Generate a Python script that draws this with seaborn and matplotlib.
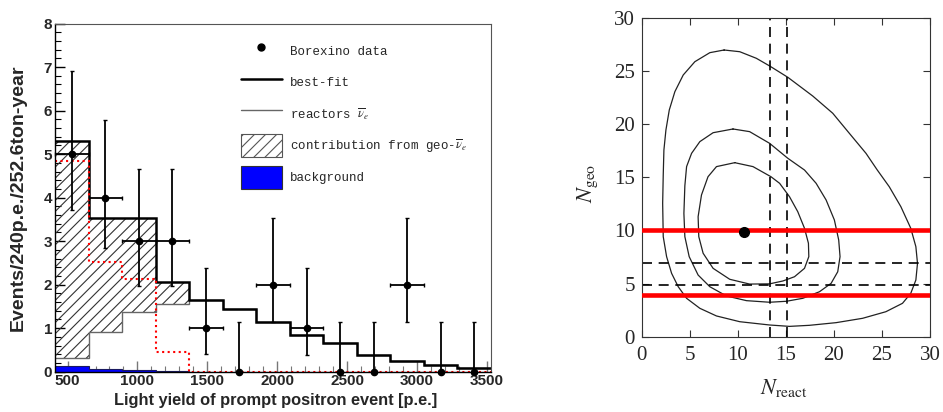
import numpy as np
import matplotlib
matplotlib.use('Agg')
import matplotlib.pyplot as plt
from matplotlib.patches import Patch
from matplotlib.lines import Line2D
from matplotlib.ticker import MultipleLocator
import seaborn as sns

# ---- left panel: prompt positron spectrum, 240 p.e. bins ----
bin_edges = [410, 650, 890, 1130, 1370, 1610, 1850, 2090, 2330, 2570, 2810, 3050, 3290, 3530]
data_counts = [5, 4, 3, 3, 1, 0, 2, 1, 0, 0, 2, 0, 0]
data_low = [3.72, 2.84, 1.98, 1.98, 0.40, 0, 1.15, 0.38, 0, 0, 1.15, 0, 0]
data_high = [6.90, 5.79, 4.66, 4.66, 2.38, 1.15, 3.53, 2.38, 1.15, 1.15, 3.53, 1.15, 1.15]
best_fit = [5.31, 3.53, 3.53, 2.07, 1.64, 1.44, 1.15, 0.84, 0.66, 0.39, 0.25, 0.15, 0.08]
reactors = [0.32, 0.91, 1.37, 1.56, 1.64, 1.44, 1.15, 0.84, 0.66, 0.39, 0.25, 0.15, 0.08]
geo_spectrum = [4.85, 2.53, 2.13, 0.46, 0, 0, 0, 0, 0, 0, 0, 0, 0]
background = [0.14, 0.06, 0.03, 0.01, 0, 0, 0, 0, 0, 0, 0, 0, 0]
legend_labels = ['Borexino data', 'best-fit', r'reactors $\overline{\nu}_{e}$',
                 r'contribution from geo-$\overline{\nu}_{e}$', 'background']

# ---- right panel: N_geo vs N_react contours ----
outer_x = [8.57, 10.2, 11.93, 13.31, 15.21, 17.8, 19.88, 21.61, 23.34, 24.5, 25.76, 26.97, 28.0,
           28.53, 28.7, 28.53, 28.0, 27.14, 25.41, 22.99, 20.23, 17.46, 15.38, 13.31, 10.2, 7.78,
           6.05, 4.67, 3.8, 3.11, 2.59, 2.24, 2.18, 2.24, 2.31, 2.52, 2.87, 3.45, 4.32, 5.53, 7.09]
outer_y = [26.97, 26.81, 26.19, 25.47, 24.4, 22.64, 21.02, 19.13, 17.25, 15.7, 14.11, 12.23, 10.2,
           8.47, 6.9, 5.33, 4.08, 3.14, 2.35, 1.73, 1.32, 1.07, 0.97, 1.1, 1.41, 1.95,
           2.67, 3.61, 4.7, 5.96, 7.53, 9.41, 12.55, 15.2, 17.56, 19.45, 21.33, 23.05, 24.62, 25.87,
           26.72]
middle_x = [9.5, 11.23, 13.31, 15.21, 16.94, 18.15, 19.19, 20.05, 20.5, 20.64, 20.4, 19.71, 18.5,
            16.76, 15.04, 13.31, 10.9, 8.82, 7.09, 5.87, 4.94, 4.49, 4.39, 4.49, 4.67, 5.19, 6.05,
            7.43]
middle_y = [19.54, 19.29, 18.19, 16.78, 15.68, 14.43, 12.86, 10.98, 9.1, 7.53, 6.11, 5.02, 4.23,
            3.61, 3.33, 3.24, 3.39, 3.83, 4.7, 5.8, 7.53, 9.41, 11.6, 14.2, 16.0, 17.25, 18.35,
            19.19]
inner_x = [9.68, 11.58, 13.45, 14.35, 15.38, 16.24, 16.94, 17.35, 17.39, 16.94, 15.9, 14.69, 13.31,
           11.23, 9.16, 7.43, 6.39, 5.94, 5.87, 6.22, 6.9, 7.78]
inner_y = [16.37, 16.0, 15.05, 14.43, 13.17, 11.76, 10.2, 8.79, 7.53, 6.43, 5.64, 5.24, 4.97,
           4.95, 5.4, 6.43, 7.85, 9.41, 11.29, 13.33, 15.05, 16.0]
best_point = (10.65, 9.85)
geo_red_lines = [10.0, 3.95]
geo_dashed_lines = [6.9, 4.85]
react_dashed_lines = [13.4, 15.1]

sns.set_theme(style='ticks')
plt.rcParams['mathtext.fontset'] = 'stix'
plt.rcParams['hatch.linewidth'] = 0.8
plt.rcParams['hatch.color'] = '#333333'
sans = ['Liberation Sans', 'DejaVu Sans']
serif = ['Liberation Serif', 'DejaVu Serif']

fig = plt.figure(figsize=(9.43, 4.12), dpi=100)
ax1 = fig.add_axes([0.0583, 0.0978, 0.4624, 0.845])
ax2 = fig.add_axes([0.6805, 0.1828, 0.3057, 0.774])

# left panel
edges = np.array(bin_edges, dtype=float)
centers = (edges[:-1] + edges[1:]) / 2

ax1.fill_between(edges, reactors + reactors[-1:], best_fit + best_fit[-1:], step='post',
                 facecolor='none', edgecolor='#333333', hatch='///', linewidth=0)
ax1.stairs(background, edges, fill=True, facecolor='#0000ff', edgecolor='#1a1a60', linewidth=0.8)
ax1.stairs(reactors, edges, baseline=None, color='#666666', linewidth=1.0)
ax1.stairs(best_fit, edges, baseline=None, color='black', linewidth=1.8)
ax1.stairs(geo_spectrum, edges, baseline=None, color='red', linestyle=':', linewidth=1.5)

counts = np.array(data_counts, dtype=float)
yerr = [counts - np.array(data_low), np.array(data_high) - counts]
xerr = np.where(counts > 0, 120, 0)
ax1.errorbar(centers, counts, yerr=yerr, xerr=xerr, fmt='o', color='black', markersize=4.5,
             elinewidth=1.3, capsize=1.5, capthick=1.0, clip_on=False, zorder=5)

ax1.set_xlim(edges[0], edges[-1])
ax1.set_ylim(0, 8)
ax1.xaxis.set_major_locator(MultipleLocator(500))
ax1.xaxis.set_minor_locator(MultipleLocator(100))
ax1.yaxis.set_major_locator(MultipleLocator(1))
ax1.yaxis.set_minor_locator(MultipleLocator(0.2))
ax1.tick_params(axis='both', which='both', direction='in', top=False, right=False)
ax1.tick_params(axis='y', which='major', length=7, width=1.0, color='black', pad=2)
ax1.tick_params(axis='y', which='minor', length=4, width=0.8, color='black')
ax1.tick_params(axis='x', which='major', length=8, width=1.0, color='#777777', pad=2)
ax1.tick_params(axis='x', which='minor', length=4, width=0.8, color='#777777')
for lab in ax1.get_xticklabels() + ax1.get_yticklabels():
    lab.set_family(sans)
    lab.set_fontweight('bold')
    lab.set_fontsize(11)
for side in ['top', 'right']:
    ax1.spines[side].set_color('#555555')
    ax1.spines[side].set_linewidth(0.8)
for side in ['left', 'bottom']:
    ax1.spines[side].set_color('black')
    ax1.spines[side].set_linewidth(1.0)

ax1.set_xlabel('Light yield of prompt positron event [p.e.]', family=sans,
               fontweight='bold', fontsize=11.8)
ax1.set_ylabel('Events/240p.e./252.6ton-year', family=sans, fontweight='bold', fontsize=14)
ax1.xaxis.set_label_coords(0.505, -0.06)
ax1.yaxis.set_label_coords(-0.064, 0.5)

handles = [
    Line2D([], [], marker='o', color='black', linestyle='none', markersize=5),
    Line2D([], [], color='black', linewidth=1.8),
    Line2D([], [], color='#666666', linewidth=1.0),
    Patch(facecolor='white', edgecolor='#555555', hatch='///', linewidth=0.8),
    Patch(facecolor='#0000ff', edgecolor='#333333', linewidth=0.8),
]
ax1.legend(handles, legend_labels, loc='upper left', bbox_to_anchor=(240.7 / 943, 1 - 39.7 / 412),
           bbox_transform=fig.transFigure, frameon=False, borderpad=0, borderaxespad=0,
           handlelength=3.3, handleheight=2.4, labelspacing=0.72, handletextpad=0.66,
           prop={'family': ['Liberation Mono', 'DejaVu Sans Mono'], 'size': 9})

# right panel
for cx, cy in [(outer_x, outer_y), (middle_x, middle_y), (inner_x, inner_y)]:
    sns.lineplot(x=cx + cx[:1], y=cy + cy[:1], sort=False, estimator=None,
                 color='#222222', linewidth=0.9, ax=ax2)
for yv in geo_red_lines:
    ax2.axhline(yv, color='#ff0000', linewidth=3.3, zorder=3)
for yv in geo_dashed_lines:
    ax2.axhline(yv, color='black', linewidth=1.2, linestyle=(0, (6, 4)), zorder=2)
for xv in react_dashed_lines:
    ax2.axvline(xv, color='black', linewidth=1.2, linestyle=(0, (6, 4)), zorder=2)
ax2.plot([best_point[0]], [best_point[1]], 'o', color='black', markersize=7, zorder=4)

ax2.set_xlim(0, 30)
ax2.set_ylim(0, 30)
ax2.xaxis.set_major_locator(MultipleLocator(5))
ax2.yaxis.set_major_locator(MultipleLocator(5))
ax2.tick_params(axis='both', which='major', direction='in', top=True, right=True,
                length=5, width=0.8, color='#333333', labelsize=15)
ax2.tick_params(axis='x', pad=7)
ax2.tick_params(axis='y', pad=5)
for lab in ax2.get_xticklabels() + ax2.get_yticklabels():
    lab.set_family(serif)
for side in ax2.spines.values():
    side.set_color('#333333')
    side.set_linewidth(0.8)
ax2.set_xlabel(r'$N_{\mathrm{react}}$', fontsize=16)
ax2.set_ylabel(r'$N_{\mathrm{geo}}$', fontsize=16)
ax2.xaxis.set_label_coords(0.494, -0.125)
ax2.yaxis.set_label_coords(-0.145, 0.482)

fig.savefig('out.png', dpi=100)
